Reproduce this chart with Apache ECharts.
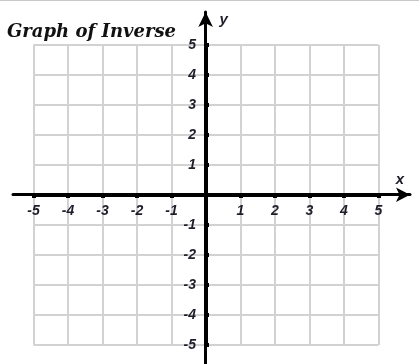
<!DOCTYPE html>
<html>
<head>
<meta charset="utf-8">
<script src="https://cdn.jsdelivr.net/npm/echarts@6/dist/echarts.min.js"></script>
<style>
  html, body { margin: 0; padding: 0; background: #fff; }
  #chart { width: 419px; height: 364px; }
</style>
</head>
<body>
<div id="chart"></div>
<script>
// 坐标范围与刻度
const xMin = -5;
const xMax = 5;
const yMin = -5;
const yMax = 5;
const xTickLabels = ['-5', '-4', '-3', '-2', '-1', '', '1', '2', '3', '4', '5'];
const yTickLabels = ['-5', '-4', '-3', '-2', '-1', '', '1', '2', '3', '4', '5'];
// 箭头轴的延伸范围
const xArrowRange = [-5.57, 5.91];
const yArrowRange = [-5.65, 6.1];

const labelFont = {
  fontFamily: 'Liberation Sans',
  fontWeight: 'bold',
  fontStyle: 'italic',
  fontSize: 14,
  color: '#1e1e2a'
};

let chart = echarts.init(document.getElementById('chart'));
let option = {
  animation: false,
  title: {
    text: 'Graph of Inverse',
    left: 2,
    top: 18,
    textStyle: {
      fontFamily: 'DejaVu Serif',
      fontWeight: 'bold',
      fontStyle: 'italic',
      fontSize: 18,
      color: '#111'
    }
  },
  graphic: [
    {
      type: 'line',
      shape: { x1: 0, y1: 0.5, x2: 419, y2: 0.5 },
      style: { stroke: '#c8c8c8', lineWidth: 1 }
    }
  ],
  grid: [
    { left: 33.5, width: 345, top: 45, height: 300 },
    { left: 13, right: 9, top: 12, bottom: 0 }
  ],
  xAxis: [
    {
      gridIndex: 0,
      type: 'value',
      min: xMin,
      max: xMax,
      interval: 1,
      position: 'bottom',
      // 网格高300，零点在中间
      offset: -150,
      axisLine: { show: true, onZero: false, lineStyle: { color: '#000', width: 3 } },
      axisTick: { show: true, inside: false, length: 3, lineStyle: { color: '#000', width: 4 } },
      axisLabel: {
        margin: 9,
        ...labelFont,
        formatter: (v) => xTickLabels[v - xMin]
      },
      splitLine: { show: true, lineStyle: { color: '#d2d2d2', width: 2 } }
    },
    {
      gridIndex: 1,
      type: 'value',
      min: xArrowRange[0],
      max: xArrowRange[1],
      axisLine: {
        show: true,
        onZero: true,
        symbol: ['none', 'arrow'],
        symbolSize: [11, 14],
        lineStyle: { color: '#000', width: 3 }
      },
      axisTick: { show: false },
      axisLabel: { show: false },
      splitLine: { show: false },
      name: 'x',
      nameLocation: 'end',
      nameGap: -10,
      nameTextStyle: {
        ...labelFont,
        fontSize: 15,
        align: 'center',
        verticalAlign: 'bottom',
        padding: [0, 0, 7, 0]
      }
    }
  ],
  yAxis: [
    {
      gridIndex: 0,
      type: 'value',
      min: yMin,
      max: yMax,
      interval: 1,
      position: 'left',
      // 网格宽345，零点在中间
      offset: -172.5,
      axisLine: { show: true, onZero: false, lineStyle: { color: '#000', width: 3 } },
      axisTick: { show: true, inside: true, length: 3, lineStyle: { color: '#000', width: 4 } },
      axisLabel: {
        margin: 10,
        ...labelFont,
        padding: [9, 0, 0, 0],
        formatter: (v) => yTickLabels[v - yMin]
      },
      splitLine: { show: true, lineStyle: { color: '#d2d2d2', width: 2 } }
    },
    {
      gridIndex: 1,
      type: 'value',
      min: yArrowRange[0],
      max: yArrowRange[1],
      axisLine: {
        show: true,
        onZero: true,
        symbol: ['none', 'arrow'],
        symbolSize: [11, 15],
        lineStyle: { color: '#000', width: 3 }
      },
      axisTick: { show: false },
      axisLabel: { show: false },
      splitLine: { show: false },
      name: 'y',
      nameLocation: 'end',
      nameGap: -8,
      nameTextStyle: {
        ...labelFont,
        fontSize: 15,
        align: 'left',
        verticalAlign: 'middle',
        padding: [0, 0, 0, 14]
      }
    }
  ],
  series: []
};
chart.setOption(option);
</script>
</body>
</html>
